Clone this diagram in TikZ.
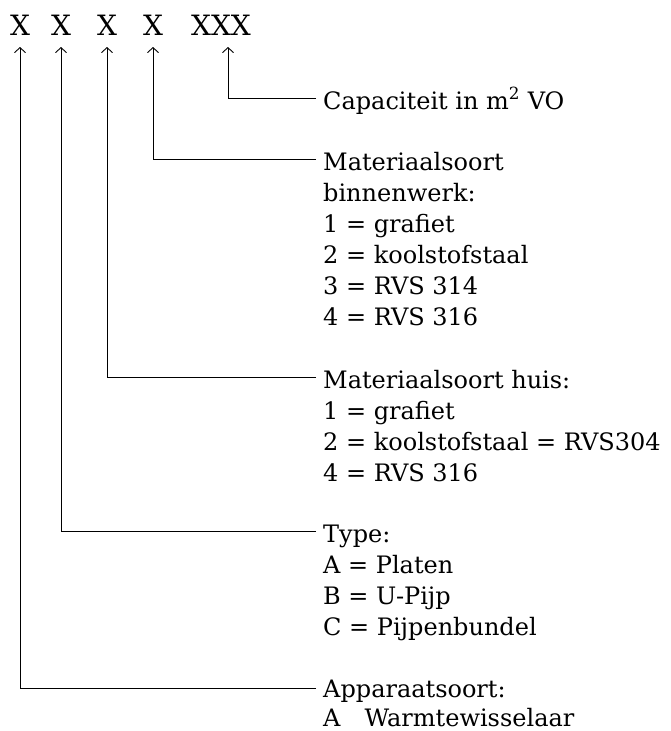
\documentclass[tikz,border=0pt]{standalone}
\usepackage{fontspec}
\setmainfont{DejaVu Serif}
\usetikzlibrary{arrows.meta}
\tikzset{
	code/.style={font=\fontsize{28}{31}\selectfont, inner sep=0pt, anchor=base},
	legend/.style={font=\fontsize{24}{31}\selectfont, inner sep=0pt, anchor=base west},
	pointer/.style={-{Straight Barb[length=5pt,width=11pt]}, line width=0.9pt},
}
\newcommand{\rows}[1]{\begin{tabular}[t]{@{}l@{}}#1\end{tabular}}
\begin{document}
\begin{tikzpicture}[x=1pt,y=-1pt]
		\useasboundingbox (0,0) rectangle (670,731);
		\foreach \i/\xpos in {1/20,2/61,3/107,4/153}
			\node[code] (x\i) at (\xpos,35) {X};
		\node[code] (x5) at (221,35) {XXX};
		\node[legend] (l5) at (323,109) {Capaciteit in m\textsuperscript{2} VO};
		\node[legend] (l4) at (323,170) {\rows{Materiaalsoort\\ binnenwerk:\\ 1 = grafiet\\ 2 = koolstofstaal\\ 3 = RVS 314\\ 4 = RVS 316}};
		\node[legend] (l3) at (323,388) {\rows{Materiaalsoort huis:\\ 1 = grafiet\\ 2 = koolstofstaal = RVS304\\ 4 = RVS 316}};
		\node[legend] (l2) at (323,542) {\rows{Type:\\ A = Platen\\ B = U-Pijp\\ C = Pijpenbundel}};
		\node[legend, font=\fontsize{24}{29}\selectfont] (l1) at (323,697) {\rows{Apparaatsoort:\\ A\quad Warmtewisselaar}};
		\draw[pointer] ([shift={(-7,-11)}]l5.base west) -| ([shift={(7,12)}]x5.base);
		\foreach \i in {2,3,4}
			\draw[pointer] ([shift={(-7,-11)}]l\i.base west) -| ([yshift=-12pt]x\i.base);
		\draw[pointer] ([shift={(-7,-9)}]l1.base west) -| ([yshift=-12pt]x1.base);
	\end{tikzpicture}
\end{document}
